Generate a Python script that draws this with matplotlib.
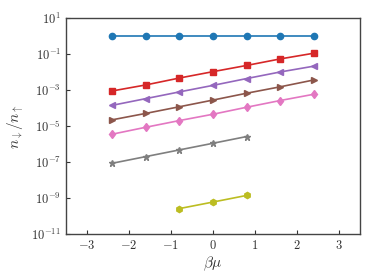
import matplotlib
matplotlib.use("Agg")
import matplotlib.pyplot as plt
import numpy as np

plt.rcParams['font.family'] = 'serif'
plt.rcParams['font.serif'] = ['cmr10']
plt.rcParams['mathtext.fontset'] = 'cm'
plt.rcParams['axes.formatter.use_mathtext'] = True

beta_mu = [-2.4, -1.6, -0.8, 0.0, 0.8, 1.6, 2.4]

blue = [1.0, 1.0, 1.0, 1.0, 1.0, 1.0, 1.0]
red = [8.8e-4, 1.9e-3, 4.6e-3, 1.04e-2, 2.3e-2, 5.3e-2, 1.1e-1]
purple = [1.4e-4, 3.3e-4, 7.8e-4, 1.8e-3, 4.3e-3, 1.0e-2, 2.1e-2]
brown = [2.2e-5, 5.0e-5, 1.17e-4, 2.75e-4, 6.6e-4, 1.5e-3, 3.6e-3]
pink = [3.5e-6, 8.5e-6, 2.0e-5, 4.5e-5, 1.1e-4, 2.6e-4, 5.8e-4]
gray_x = [-2.4, -1.6, -0.8, 0.0, 0.8]
gray = [8.5e-8, 2.0e-7, 4.7e-7, 1.1e-6, 2.6e-6]
olive_x = [-0.8, 0.0, 0.8]
olive = [2.6e-10, 6.0e-10, 1.4e-9]

fig = plt.figure(figsize=(3.74, 2.80), dpi=100)
ax = fig.add_axes([0.176, 0.164, 0.787, 0.772])

ms = 4.5
ax.plot(beta_mu, blue, '-o', color='#1f77b4', ms=ms, lw=1.2)
ax.plot(beta_mu, red, '-s', color='#d62728', ms=ms, lw=1.2)
ax.plot(beta_mu, purple, '-<', color='#9467bd', ms=ms, lw=1.2)
ax.plot(beta_mu, brown, '->', color='#8c564b', ms=ms, lw=1.2)
ax.plot(beta_mu, pink, '-d', color='#e377c2', ms=ms, lw=1.2)
ax.plot(gray_x, gray, '-*', color='#7f7f7f', ms=ms, lw=1.2)
ax.plot(olive_x, olive, '-h', color='#bcbd22', ms=ms, lw=1.2)

ax.set_yscale('log')
ax.set_xlim(-3.5, 3.5)
ax.set_ylim(1e-11, 1e1)
ax.set_yticks([10.0**e for e in [1, -1, -3, -5, -7, -9, -11]])
ax.set_xticks([-3, -2, -1, 0, 1, 2, 3])
ax.minorticks_off()
ax.tick_params(direction='in', length=3, width=0.8, labelsize=9, colors='#333333', labelcolor='#333333')
for s in ax.spines.values():
    s.set_color('#444444')
    s.set_linewidth(1.0)
ax.set_xlabel(r'$\beta\mu$', fontsize=11, color='#333333', labelpad=2)
ax.set_ylabel(r'$n_{\downarrow}/n_{\uparrow}$', fontsize=11, color='#333333')

fig.savefig('out.png', dpi=100)
